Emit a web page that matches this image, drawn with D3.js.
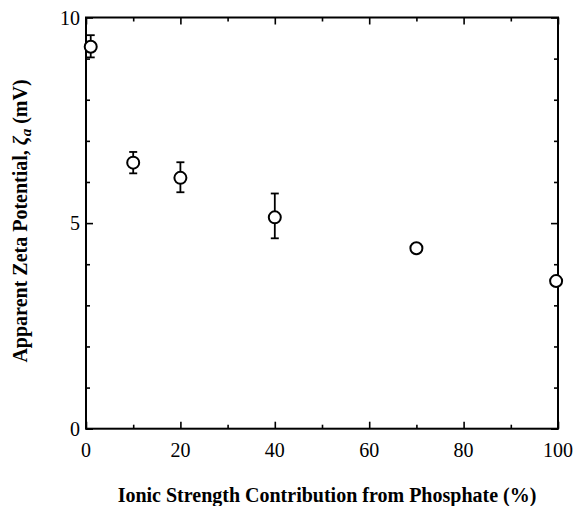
<!DOCTYPE html>
<html>
<head>
<meta charset="utf-8">
<script src="https://cdn.jsdelivr.net/npm/d3@7"></script>
<style>
  body { margin: 0; background: #fff; }
  svg { display: block; }
  text { font-family: "Liberation Serif", "Times New Roman", serif; fill: #000; }
</style>
</head>
<body>
<svg width="578" height="506"></svg>
<script>
// data
var phosphate = [1, 10, 20, 40, 70, 99.6];
var zeta      = [9.29, 6.47, 6.10, 5.14, 4.39, 3.59];
var errHigh   = [9.57, 6.73, 6.48, 5.72, 4.47, 3.59];
var errLow    = [9.03, 6.21, 5.75, 4.63, 4.31, 3.59];

var xMajor = [0, 20, 40, 60, 80, 100];
var xMinor = [10, 30, 50, 70, 90];
var yMajor = [0, 5, 10];
var yMinor = [1, 2, 3, 4, 6, 7, 8, 9];

var svg = d3.select("svg"),
    plotLeft = 86, plotRight = 558, plotTop = 17.5, plotBottom = 428.7;

var x = d3.scaleLinear().domain([0, 100]).range([plotLeft, plotRight]),
    y = d3.scaleLinear().domain([0, 10]).range([plotBottom, plotTop]);

var points = phosphate.map(function(p, i) {
  return {x: p, y: zeta[i], hi: errHigh[i], lo: errLow[i]};
});

// frame
svg.append("rect")
    .attr("x", plotLeft).attr("y", plotTop)
    .attr("width", plotRight - plotLeft).attr("height", plotBottom - plotTop)
    .attr("fill", "none").attr("stroke", "#000").attr("stroke-width", 2);

// inward ticks on all four sides
function ticks(axis, values, size, tx, ty) {
  var g = svg.append("g")
      .attr("transform", "translate(" + tx + "," + ty + ")")
      .call(axis.tickValues(values).tickSize(size).tickFormat(""));
  g.select(".domain").remove();
  g.selectAll(".tick line").attr("stroke-width", 1.6);
  return g;
}
ticks(d3.axisBottom(x), xMajor, -7, 0, plotBottom);
ticks(d3.axisBottom(x), xMinor, -4, 0, plotBottom);
ticks(d3.axisTop(x), xMajor, -7, 0, plotTop);
ticks(d3.axisTop(x), xMinor, -4, 0, plotTop);
ticks(d3.axisLeft(y), yMajor, -7, plotLeft, 0);
ticks(d3.axisLeft(y), yMinor, -4, plotLeft, 0);
ticks(d3.axisRight(y), yMajor, -7, plotRight, 0);
ticks(d3.axisRight(y), yMinor, -4, plotRight, 0);

// tick labels
svg.append("g").selectAll("text")
  .data(xMajor)
  .enter().append("text")
    .attr("x", function(d) { return x(d); })
    .attr("y", 457)
    .attr("text-anchor", "middle")
    .style("font-size", "20px")
    .text(function(d) { return d; });

svg.append("g").selectAll("text")
  .data(yMajor)
  .enter().append("text")
    .attr("x", 80)
    .attr("y", function(d) { return y(d); })
    .attr("dy", "0.35em")
    .attr("text-anchor", "end")
    .style("font-size", "20px")
    .text(function(d) { return d; });

// axis titles
svg.append("text")
    .attr("x", 327)
    .attr("y", 502)
    .attr("text-anchor", "middle")
    .style("font-size", "20px")
    .style("font-weight", "bold")
    .text("Ionic Strength Contribution from Phosphate (%)");

var yt = svg.append("text")
    .attr("transform", "translate(27,221) rotate(-90)")
    .attr("text-anchor", "middle")
    .style("font-size", "20px")
    .style("font-weight", "bold");
yt.append("tspan").text("Apparent Zeta Potential, ");
yt.append("tspan").style("font-style", "italic").text("ζ");
yt.append("tspan").style("font-style", "italic").style("font-size", "15px").attr("dy", 4).text("a");
yt.append("tspan").attr("dy", -4).text(" (mV)");

// error bars
var eb = svg.append("g").attr("stroke", "#000").attr("stroke-width", 1.8);
eb.selectAll(".bar")
  .data(points)
  .enter().append("line")
    .attr("x1", function(d) { return x(d.x); })
    .attr("x2", function(d) { return x(d.x); })
    .attr("y1", function(d) { return y(d.hi); })
    .attr("y2", function(d) { return y(d.lo); });
eb.selectAll(".capHi")
  .data(points)
  .enter().append("line")
    .attr("x1", function(d) { return x(d.x) - 4; })
    .attr("x2", function(d) { return x(d.x) + 4; })
    .attr("y1", function(d) { return y(d.hi); })
    .attr("y2", function(d) { return y(d.hi); });
eb.selectAll(".capLo")
  .data(points)
  .enter().append("line")
    .attr("x1", function(d) { return x(d.x) - 4; })
    .attr("x2", function(d) { return x(d.x) + 4; })
    .attr("y1", function(d) { return y(d.lo); })
    .attr("y2", function(d) { return y(d.lo); });

// markers
svg.append("g").selectAll("circle")
  .data(points)
  .enter().append("circle")
    .attr("cx", function(d) { return x(d.x); })
    .attr("cy", function(d) { return y(d.y); })
    .attr("r", 6)
    .attr("fill", "#fff")
    .attr("stroke", "#000")
    .attr("stroke-width", 2);
</script>
</body>
</html>
